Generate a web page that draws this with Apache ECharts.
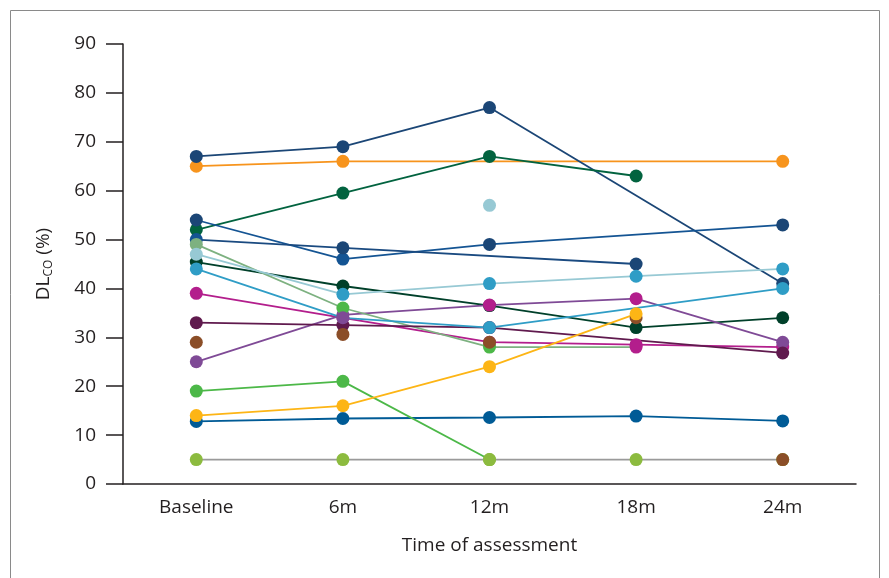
<!DOCTYPE html>
<html><head><meta charset="utf-8">
<script src="https://cdn.jsdelivr.net/npm/echarts@6/dist/echarts.min.js"></script>
<style>html,body{margin:0;padding:0;background:#fff}#c{width:889px;height:578px}</style>
</head><body><div id="c"></div>
<script>
const categories = ['Baseline', '6m', '12m', '18m', '24m'];
const yTicks = [0, 10, 20, 30, 40, 50, 60, 70, 80, 90];

const greyFlat   = [5, 5, 5, 5, 5];
const blueBottom = [12.8, 13.4, 13.6, 13.9, 12.9];
const brightGreen= [19, 21, 5, null, null];
const orange     = [65, 66, null, null, 66];
const navyTop    = [67, 69, 77, null, 41];
const darkGreen  = [52, 59.5, 67, 63, null];
const blueA      = [54, 46, 49, null, 53];
const blueB      = [50, 48.3, null, 45, null];
const sage       = [49, 36, 28, 28, null];
const magenta    = [39, 34, 29, 28.5, 28];
const darkGreen2 = [45.4, 40.5, 36.5, 32, 34];
const purple     = [25, 34.6, 36.6, 37.9, 29];
const maroon     = [33, 32.5, 32, null, 26.8];
const cyan       = [44, 34, 32, null, 40];
const pale       = [47, 38.8, 41, 42.5, 44];
const isolated   = [null, null, 57, null, null];
const brownPts   = [29, 30.6, 29, 34, 5];
const yellow     = [14, 16, 24, 34.8, null];

const FONT = '"Open Sans", sans-serif';

function lineSeries(name, data, lineColor, markerColors) {
  return {
    name, type: 'line', data, connectNulls: true,
    symbol: 'circle', symbolSize: 13,
    lineStyle: { color: lineColor, width: 1.8 },
    itemStyle: {
      color: markerColors ? (p => markerColors[p.dataIndex]) : lineColor,
      opacity: 1
    },
    emphasis: { disabled: true },
    animation: false
  };
}

const C = {
  grey: '#9a9a9a', olive: '#8cbb3f', blueBottom: '#005b96', green: '#4cb848',
  orange: '#f7941d', navy: '#1b4676', dkgreen: '#02633f', blueA: '#145493',
  blueB: '#1a4a80', sage: '#7db180', magenta: '#b31e8c', dkgreen2: '#00402a',
  purple: '#7f4a96', maroon: '#601a4e', cyan: '#2f9dc6', pale: '#97c9d4',
  brown: '#8b4e28', yellow: '#fdb515'
};

const series = [
  lineSeries('grey', greyFlat, C.grey, [C.olive, C.olive, C.olive, C.olive, C.olive]),
  lineSeries('blueBottom', blueBottom, C.blueBottom),
  lineSeries('brightGreen', brightGreen, C.green, [C.green, C.green, C.olive, C.olive, C.olive]),
  lineSeries('orange', orange, C.orange),
  lineSeries('navyTop', navyTop, C.navy),
  lineSeries('darkGreen', darkGreen, C.dkgreen),
  lineSeries('blueA', blueA, C.blueA, [C.navy, C.blueA, C.navy, C.navy, C.navy]),
  lineSeries('blueB', blueB, C.blueB, [C.blueA, C.navy, C.navy, C.navy, C.navy]),
  lineSeries('magenta', magenta, C.magenta),
  lineSeries('darkGreen2', darkGreen2, C.dkgreen2),
  lineSeries('purple', purple, C.purple, [C.purple, C.purple, C.magenta, C.magenta, C.purple]),
  lineSeries('sage', sage, C.sage, [C.sage, C.green, C.green, C.magenta, C.sage]),
  lineSeries('maroon', maroon, C.maroon),
  lineSeries('cyan', cyan, C.cyan, [C.cyan, C.purple, C.cyan, C.cyan, C.cyan]),
  lineSeries('pale', pale, C.pale, [C.pale, C.cyan, C.cyan, C.cyan, C.cyan]),
  lineSeries('isolated', isolated, C.pale),
  Object.assign(lineSeries('brown', brownPts, C.brown), { lineStyle: { width: 0, opacity: 0 } }),
  lineSeries('yellow', yellow, C.yellow)
];

const chart = echarts.init(document.getElementById('c'), null, { renderer: 'canvas' });
chart.setOption({
  backgroundColor: '#fff',
  animation: false,
  graphic: [{
    type: 'rect', shape: { x: 10.5, y: 10.5, width: 869, height: 620 },
    style: { fill: 'none', stroke: '#8a8a8a', lineWidth: 1 }, silent: true
  }],
  grid: { left: 123, right: 33, top: 44, bottom: 94 },
  xAxis: {
    type: 'category', data: categories, boundaryGap: true,
    name: 'Time of assessment', nameLocation: 'middle', nameGap: 52,
    nameTextStyle: { fontFamily: FONT, fontSize: 19, color: '#231f20' },
    axisLine: { lineStyle: { color: '#231f20', width: 1.5 } },
    axisTick: { show: false },
    axisLabel: { fontFamily: FONT, fontSize: 19, color: '#231f20', margin: 14 }
  },
  yAxis: {
    type: 'value', min: 0, max: 90, interval: 10,
    name: '{a|DL}{b|CO}{a| (%)}', nameLocation: 'middle', nameGap: 68, nameRotate: 90,
    nameTextStyle: {
      rich: {
        a: { fontFamily: FONT, fontSize: 19, color: '#231f20' },
        b: { fontFamily: FONT, fontSize: 12, color: '#231f20', padding: [11, 0, 0, 0] }
      }
    },
    splitLine: { show: false },
    axisLine: { show: true, lineStyle: { color: '#231f20', width: 1.5 } },
    axisTick: { show: true, length: 17, lineStyle: { color: '#231f20', width: 1.5 } },
    axisLabel: {
      fontFamily: FONT, fontSize: 19, color: '#231f20', margin: 27,
      formatter: v => (yTicks.indexOf(v) >= 0 ? String(v) : '')
    }
  },
  series
});
</script></body></html>
